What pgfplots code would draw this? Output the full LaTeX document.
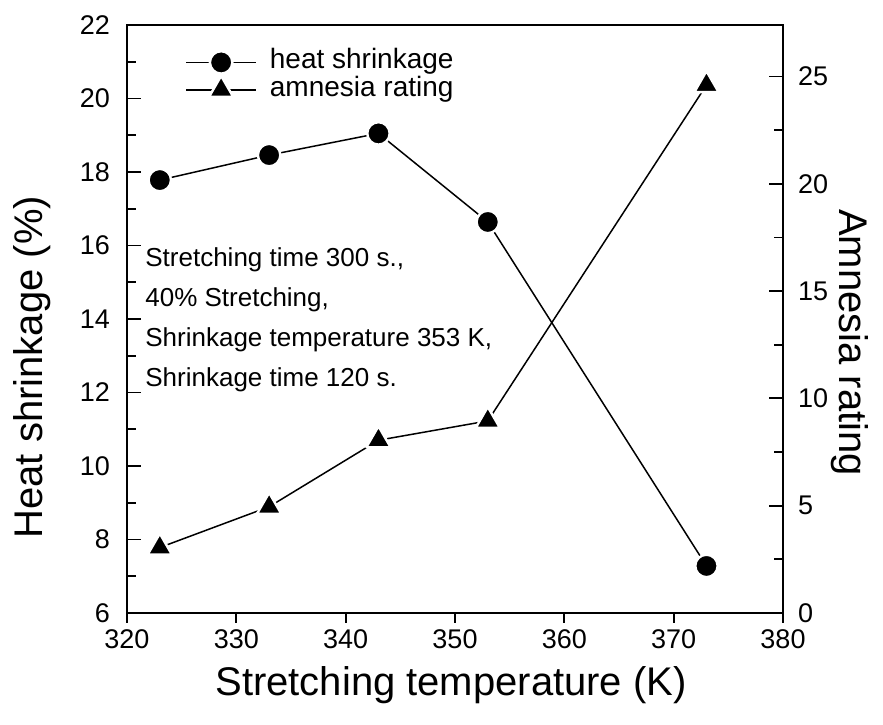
\documentclass[border=0pt]{standalone}
\usepackage{fontspec}
\setmainfont{Liberation Sans}
\usepackage{pgfplots}
\pgfplotsset{compat=1.18}

\begin{document}
\begin{tikzpicture}
\pgfplotsset{
  base/.style={
    width=328pt, height=294pt, scale only axis,
    xmin=320, xmax=380,
    axis line style={line width=1pt},
    every tick/.style={black, line width=0.9pt},
    /pgf/number format/assume math mode=true,
    ticklabel style={font=\fontsize{13.5}{16}\selectfont},
    clip=false,
  },
}
\begin{axis}[base,
  ymin=6, ymax=22,
  ytick={6,8,...,22}, minor ytick={7,9,...,21},
  xtick=\empty,
  ytick pos=left,
  tick align=inside,
  major tick length=7pt, minor tick length=4.5pt,
  yticklabel style={xshift=-5pt},
  ylabel={Heat shrinkage (\%)},
  every axis y label/.style={at={(axis description cs:-0.145,0.418)}, rotate=90, anchor=center, font=\fontsize{20}{24}\selectfont},
  legend style={draw=none, fill=none, at={(axis description cs:0.0884,0.96)}, anchor=north west, inner sep=0pt, column sep=6.5pt, row sep=0pt, font=\fontsize{14}{16}\selectfont, nodes={inner sep=0pt, text height=10pt, text depth=3.5pt}},
  legend cell align=left,
  legend image code/.code={\draw[mark repeat=2, mark phase=2] plot coordinates {(0pt,0pt) (17.5pt,0pt) (35pt,0pt)};},
]
\addplot[black, line width=0.75pt, mark=*, mark size=5.6pt, mark options={fill=black, draw=white, line width=1.2pt}] coordinates {(323,17.78) (333,18.46) (343,19.05) (353,16.64) (373,7.28)};
\addlegendentry{heat shrinkage}
\addlegendimage{black, line width=0.75pt, mark=triangle*, mark size=7pt, mark options={fill=black, draw=white, line width=1.2pt, line join=round}}
\addlegendentry{amnesia rating}
\node[anchor=north west, inner sep=0pt, align=left, font=\fontsize{13}{20}\selectfont] at (axis description cs:0.0274,0.622) {Stretching time 300 s.,\\40\% Stretching,\\Shrinkage temperature 353 K,\\Shrinkage time 120 s.};
\coordinate (sw) at (axis description cs:0,0);
\coordinate (ne) at (axis description cs:1,1);
\end{axis}
\begin{axis}[base,
  ymin=0, ymax=27.4,
  axis x line=none, axis y line*=right,
  ytick={0,5,...,25}, minor ytick={2.5,7.5,...,22.5},
  tick align=inside,
  major tick length=7pt, minor tick length=4.5pt,
  yticklabel style={xshift=4pt},
  ylabel={Amnesia rating},
  every axis y label/.style={at={(axis description cs:1.102,0.46)}, rotate=-90, anchor=center, font=\fontsize{20}{24}\selectfont},
]
\addplot[black, line width=0.75pt, mark=triangle*, mark size=7pt, mark options={fill=black, draw=white, line width=1.2pt, line join=round}] coordinates {(323,3.05) (333,4.95) (343,8.05) (353,8.95) (373,24.6)};
\end{axis}
\begin{axis}[base,
  ymin=0, ymax=1,
  axis y line=none, axis x line*=bottom,
  xtick={320,330,...,380},
  tick align=outside,
  major tick length=5pt,
  xlabel={Stretching temperature (K)},
  every axis x label/.style={at={(axis description cs:0.494,-0.122)}, anchor=center, font=\fontsize{20}{24}\selectfont},
]
\end{axis}
\pgfresetboundingbox
\path ([shift={(-63.5pt,-56pt)}]sw) rectangle ([shift={(50pt,12.5pt)}]ne);
\end{tikzpicture}
\end{document}
